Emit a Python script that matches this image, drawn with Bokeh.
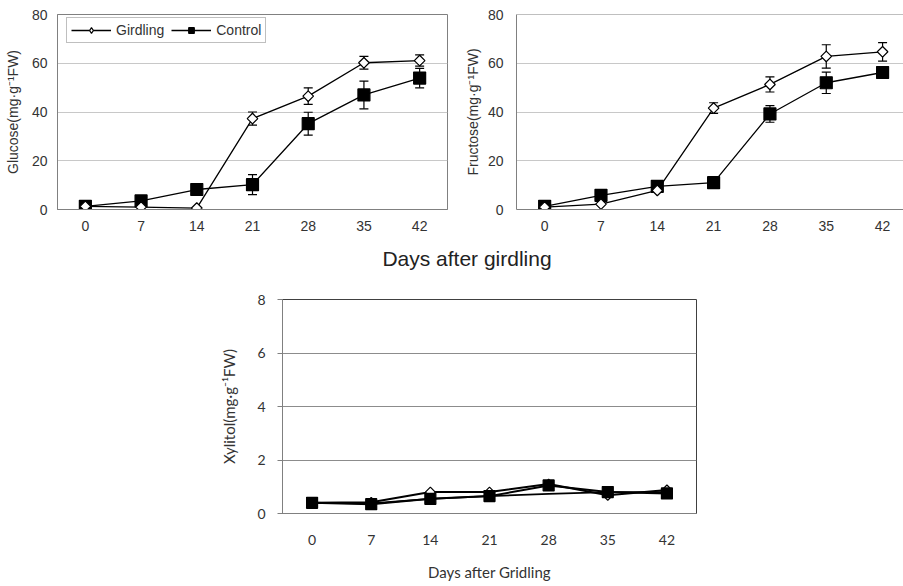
import math
from bokeh.plotting import figure
from bokeh.models import (ColumnDataSource, Whisker, TeeHead, FixedTicker, Range1d, Span,
                          Div, Spacer, Legend, LegendItem)
from bokeh.layouts import column, row
from bokeh.embed import file_html
from bokeh.resources import INLINE

# ---------------- data ----------------
days = [0, 7, 14, 21, 28, 35, 42]

glucose_girdling = [1.3, 1.0, 0.6, 37.3, 46.5, 60.2, 61.1]
glucose_girdling_err = [0.0, 0.0, 0.0, 2.7, 3.4, 2.6, 2.3]
glucose_control = [1.3, 3.5, 8.2, 10.2, 35.2, 47.0, 53.9]
glucose_control_err = [0.0, 0.0, 1.0, 4.1, 4.7, 5.7, 4.0]

fructose_girdling = [1.0, 2.2, 7.8, 41.6, 51.3, 62.8, 64.7]
fructose_girdling_err = [0.0, 0.0, 0.0, 2.2, 3.1, 4.8, 3.8]
fructose_control = [1.3, 5.8, 9.5, 11.0, 39.2, 52.0, 56.2]
fructose_control_err = [0.0, 0.0, 0.0, 1.0, 3.4, 4.4, 1.5]

xylitol_girdling = [0.40, 0.42, 0.80, 0.80, 1.10, 0.68, 0.88]
xylitol_control = [0.40, 0.35, 0.55, 0.65, 1.05, 0.80, 0.75]
xylitol_third = [0.40, 0.38, 0.55, 0.65, 0.73, 0.80, 0.80]

top_yticks = [0, 20, 40, 60, 80]
bottom_yticks = [0, 2, 4, 6, 8]
series_names = ["Girdling", "Control"]
shared_xlabel = "Days after girdling"

TOP_FONT = "Liberation Sans"
BOT_FONT = "Lato"
TOP_H = 245


def add_series(p, y, err, marker, fill, size, angle, lw=1.3, key_marker=None):
    src = ColumnDataSource(dict(x=days, y=y,
                                upper=[a + b for a, b in zip(y, err)],
                                lower=[a - b for a, b in zip(y, err)]))
    ln = p.line("x", "y", source=src, line_color="black", line_width=lw)
    w = Whisker(source=src, base="x", upper="upper", lower="lower",
                line_color="black", line_width=1.2,
                upper_head=TeeHead(size=9, line_color="black", line_width=1.2),
                lower_head=TeeHead(size=9, line_color="black", line_width=1.2))
    p.add_layout(w)
    key = None
    if key_marker:
        # same points, drawn underneath (hidden), used for the legend key shape
        key = p.scatter("x", "y", source=src, marker=key_marker, size=size * 1.25,
                        fill_color=fill, line_color="black", line_width=1.2)
    sc = p.scatter("x", "y", source=src, marker=marker, size=size, angle=angle,
                   fill_color=fill, line_color="black", line_width=1.2)
    return ln, (key if key is not None else sc)


def top_chart(ylabel, g, ge, c, ce, width, border_left, border_right,
              x_end, standoff_ticks, standoff_label, outline, legend, bottom):
    p = figure(width=width, height=TOP_H, x_range=Range1d(-3.5, x_end),
               y_range=Range1d(0, 80), output_backend="svg", toolbar_location=None,
               min_border_left=border_left, min_border_right=border_right,
               min_border_top=14, min_border_bottom=bottom)
    p.xgrid.visible = False
    p.ygrid.ticker = FixedTicker(ticks=[20, 40, 60])
    p.ygrid.grid_line_color = "#c8c8c8"
    p.xaxis.ticker = FixedTicker(ticks=days)
    p.yaxis.ticker = FixedTicker(ticks=top_yticks)
    for ax in (p.xaxis[0], p.yaxis[0]):
        ax.axis_line_color = "#808080"
        ax.major_tick_line_color = None
        ax.major_tick_out = 0
        ax.major_tick_in = 0
        ax.minor_tick_line_color = None
        ax.major_label_text_font = TOP_FONT
        ax.major_label_text_font_size = "14px"
        ax.major_label_text_color = "#333333"
    p.xaxis.major_label_standoff = 11
    p.yaxis.major_label_standoff = standoff_ticks
    p.yaxis.axis_label = ylabel
    p.yaxis.axis_label_standoff = standoff_label
    p.yaxis.axis_label_text_font = TOP_FONT
    p.yaxis.axis_label_text_font_style = "normal"
    p.yaxis.axis_label_text_font_size = "14px"
    p.yaxis.axis_label_text_color = "#333333"
    if outline:
        p.outline_line_color = "#808080"
    else:
        p.outline_line_color = None
        p.add_layout(Span(location=80, dimension="width", line_color="#808080", line_width=1))
    c_line, c_key = add_series(p, c, ce, "square", "black", 12, 0)
    g_line, g_key = add_series(p, g, ge, "square", "white", 7.5, math.pi / 4,
                               key_marker="diamond")
    if legend:
        lg = Legend(items=[LegendItem(label=series_names[0], renderers=[g_line, g_key]),
                           LegendItem(label=series_names[1], renderers=[c_line, c_key])])
        lg.orientation = "horizontal"
        lg.location = (9, 166)
        lg.border_line_color = "#808080"
        lg.border_line_width = 1
        lg.background_fill_alpha = 1
        lg.label_text_font = TOP_FONT
        lg.label_text_font_size = "14px"
        lg.label_text_color = "#333333"
        lg.glyph_width = 40
        lg.glyph_height = 14
        lg.label_standoff = 5
        lg.spacing = 7
        lg.padding = 4
        lg.margin = 0
        lg.label_height = 14
        p.add_layout(lg, "center")
    return p


p1 = top_chart("Glucose(mg·g⁻¹FW)", glucose_girdling, glucose_girdling_err,
               glucose_control, glucose_control_err, width=450, border_left=57,
               border_right=3, x_end=45.5, standoff_ticks=10, standoff_label=8,
               outline=True, legend=True, bottom=TOP_H - 209)
p2 = top_chart("Fructose(mg·g⁻¹FW)", fructose_girdling, fructose_girdling_err,
               fructose_control, fructose_control_err, width=453, border_left=66,
               border_right=0, x_end=44.6, standoff_ticks=13, standoff_label=4,
               outline=False, legend=False, bottom=TOP_H - 211)

# shared label strip for the upper pair
LBL_H = 27
LBL_W = 240
lbl = Div(text=shared_xlabel, width=LBL_W, height=LBL_H, margin=0,
          styles={"font-family": TOP_FONT, "font-size": "21px", "color": "#222222",
                  "text-align": "center", "line-height": f"{LBL_H}px",
                  "white-space": "nowrap"})
lbl_row = row(Spacer(width=467 - LBL_W // 2, height=LBL_H, margin=0), lbl)

# bottom chart
B_TOP = TOP_H + LBL_H
F_LEFT, F_RIGHT, F_TOP, F_BOTTOM = 282, 696, 299, 513
p3 = figure(width=716, height=586 - B_TOP, x_range=Range1d(-3.5, 45.5), y_range=Range1d(0, 8),
            output_backend="svg", toolbar_location=None,
            min_border_left=F_LEFT, min_border_right=716 - F_RIGHT,
            min_border_top=F_TOP - B_TOP, min_border_bottom=586 - F_BOTTOM)
p3.xgrid.visible = False
p3.ygrid.ticker = FixedTicker(ticks=[2, 4, 6])
p3.ygrid.grid_line_color = "#8c8c8c"
p3.outline_line_color = "#404040"
p3.xaxis.ticker = FixedTicker(ticks=days)
p3.yaxis.ticker = FixedTicker(ticks=bottom_yticks)
for ax in (p3.xaxis[0], p3.yaxis[0]):
    ax.axis_line_color = "#808080"
    ax.minor_tick_line_color = None
    ax.major_label_text_font = BOT_FONT
    ax.major_label_text_font_size = "14px"
    ax.major_label_text_color = "#333333"
    ax.axis_label_text_font = BOT_FONT
    ax.axis_label_text_font_style = "normal"
    ax.axis_label_text_font_size = "15px"
    ax.axis_label_text_color = "#333333"
p3.xaxis.major_tick_line_color = None
p3.xaxis.major_tick_out = 0
p3.xaxis.major_tick_in = 0
p3.xaxis.major_label_standoff = 21
p3.xaxis.axis_label = "Days after Gridling"
p3.xaxis.axis_label_standoff = 15
p3.yaxis.major_tick_out = 5
p3.yaxis.major_tick_in = 0
p3.yaxis.major_tick_line_color = "#808080"
p3.yaxis.major_label_standoff = 12
p3.yaxis.axis_label = "Xylitol(mg·g⁻¹FW)"
p3.yaxis.axis_label_standoff = 16

src3 = ColumnDataSource(dict(x=days, y=xylitol_third))
p3.line("x", "y", source=src3, line_color="black", line_width=1.8)
zero = [0] * 7
add_series(p3, xylitol_girdling, zero, "square", "white", 7, math.pi / 4, lw=2)
add_series(p3, xylitol_control, zero, "square", "black", 11, 0, lw=2)

layout = column(row(p1, p2), lbl_row, p3)
open("out.html", "w").write(file_html(layout, INLINE))
